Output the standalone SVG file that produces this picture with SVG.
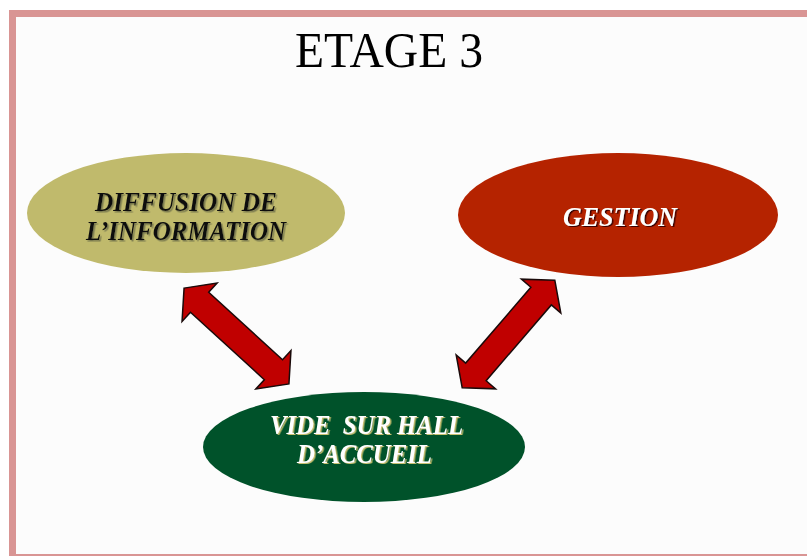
<svg xmlns="http://www.w3.org/2000/svg" width="807" height="556" viewBox="0 0 807 556">
<style>
.lbl{font-family:"Liberation Serif","Times New Roman",serif;font-weight:bold;font-style:italic;font-size:27px;text-anchor:middle}
.arrow{fill:#c00000;stroke:#1a0a0a;stroke-width:1.5;stroke-linejoin:miter}
</style>
<defs>
<polygon id="dbl" points="-71,0 -50,-26 -50,-13.5 50,-13.5 50,-26 71,0 50,26 50,13.5 -50,13.5 -50,26"/>
<filter id="shGray" x="-10%" y="-30%" width="120%" height="160%"><feDropShadow dx="1.5" dy="1.5" stdDeviation="0.4" flood-color="#7a7a50"/></filter>
<filter id="shDark" x="-10%" y="-30%" width="120%" height="160%"><feDropShadow dx="1.5" dy="1" stdDeviation="0.4" flood-color="#3a0500"/></filter>
<filter id="shGold" x="-10%" y="-30%" width="120%" height="160%"><feDropShadow dx="1.5" dy="1" stdDeviation="0.4" flood-color="#c8c070"/></filter>
</defs>
<rect x="0" y="0" width="807" height="556" fill="#ffffff"/>
<rect x="9" y="10" width="798" height="546" fill="#d99594"/>
<rect x="16" y="17" width="791" height="537" fill="#fcfcfc"/>
<text x="389" y="67" font-family="Liberation Serif, Times New Roman, serif" font-size="51" text-anchor="middle" textLength="188" lengthAdjust="spacingAndGlyphs" fill="#000">ETAGE 3</text>
<g id="connectors">
<use href="#dbl" class="arrow" transform="translate(236.5,336) rotate(42.4)"/>
<use href="#dbl" class="arrow" transform="translate(508.5,334) rotate(130.7)"/>
</g>
<g id="diffusion">
<ellipse cx="186" cy="213" rx="159" ry="60" fill="#c0ba6c"/>
<g filter="url(#shGray)" fill="#111">
<text class="lbl" x="186" y="211" font-size="25" textLength="182" lengthAdjust="spacingAndGlyphs">DIFFUSION DE</text>
<text class="lbl" x="186" y="240" font-size="25" textLength="200" lengthAdjust="spacingAndGlyphs">L’INFORMATION</text>
</g>
</g>
<g id="gestion">
<ellipse cx="618" cy="215" rx="160" ry="62" fill="#b52300"/>
<text class="lbl" x="620" y="226" fill="#ffffff" filter="url(#shDark)" textLength="114" lengthAdjust="spacingAndGlyphs">GESTION</text>
</g>
<g id="vide">
<ellipse cx="364" cy="447" rx="161" ry="55" fill="#00522a"/>
<g filter="url(#shGold)" fill="#ffffff">
<text class="lbl" x="366.5" y="434" font-size="25" textLength="193" lengthAdjust="spacingAndGlyphs" xml:space="preserve">VIDE  SUR HALL</text>
<text class="lbl" x="364.5" y="463" font-size="25" textLength="135" lengthAdjust="spacingAndGlyphs">D’ACCUEIL</text>
</g>
</g>
</svg>
